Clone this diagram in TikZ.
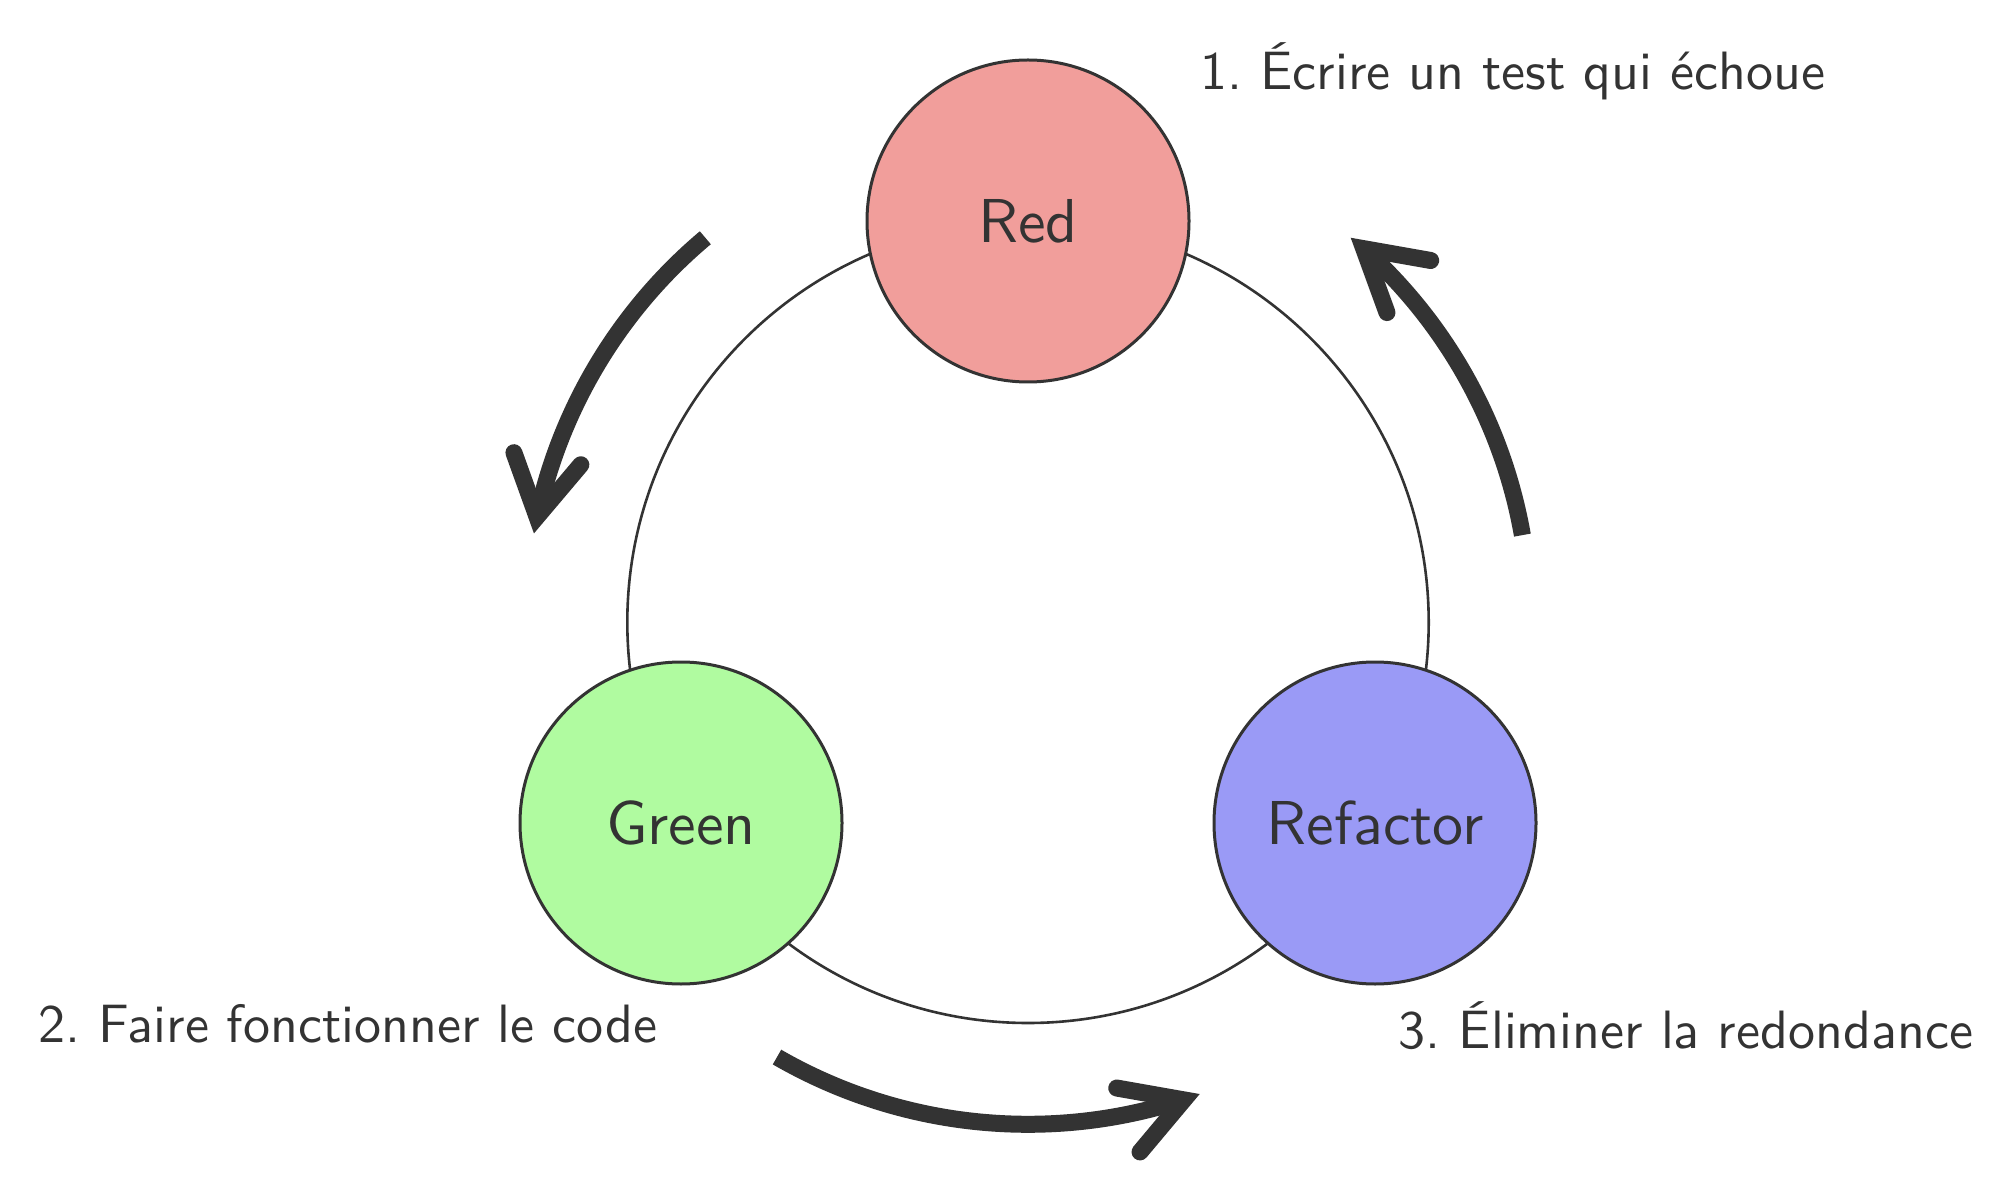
\documentclass[tikz,border=0pt]{standalone}
\usepackage{fontspec}
\newfontfamily\lmsten{lmsans10-regular.otf}
\usetikzlibrary{calc}
\definecolor{ink}{HTML}{333333}
\definecolor{redfill}{HTML}{F19E9B}
\definecolor{greenfill}{HTML}{B0FBA0}
\definecolor{bluefill}{HTML}{9A9AF6}
\newcommand\cyclearrow[2]{%
  \draw[shaft] ($(C)+(#1:502)$) arc[start angle=#1, end angle=#2-1.94, radius=502];
  \begin{scope}[shift={($(C)+(#2:502)$)}, rotate=#2+90]
    \draw[barb] (-75.9,34) -- (-17,0) -- (-75.9,-34);
  \end{scope}}
\begin{document}
\frenchspacing
\begin{tikzpicture}[x=0.5pt,y=0.5pt,
  stage/.style={circle, draw=ink, line width=1.5pt, minimum size=161pt, inner sep=0pt, text=ink, font=\lmsten\fontsize{31}{36}\selectfont},
  note/.style={anchor=base west, inner sep=0pt, text=ink, font=\lmsten\fontsize{27}{32}\selectfont},
  ring/.style={draw=ink, line width=1.3pt},
  shaft/.style={draw=ink, line width=8.5pt, line cap=butt},
  barb/.style={draw=ink, line width=8.5pt, line cap=round, line join=miter},
]
\useasboundingbox (0,0) rectangle (2006,1190);
\coordinate (C) at (1028,567.7);
\draw[ring] (C) circle[radius=400.7];
\node[stage, fill=redfill] (red) at (1028,969) {Red};
\node[stage, fill=greenfill] (green) at (681,367) {Green};
\node[stage, fill=bluefill] (refactor) at (1375,367) {Refactor};
\node[note] (n1) at (1200,1100) {1. Écrire un test qui échoue};
\node[note] (n2) at (38,147.3) {2. Faire fonctionner le code};
\node[note] (n3) at (1398.5,141.7) {3. Éliminer la redondance};
\cyclearrow{130}{169.8}
\cyclearrow{10}{50}
\cyclearrow{240}{290}
\end{tikzpicture}
\end{document}
